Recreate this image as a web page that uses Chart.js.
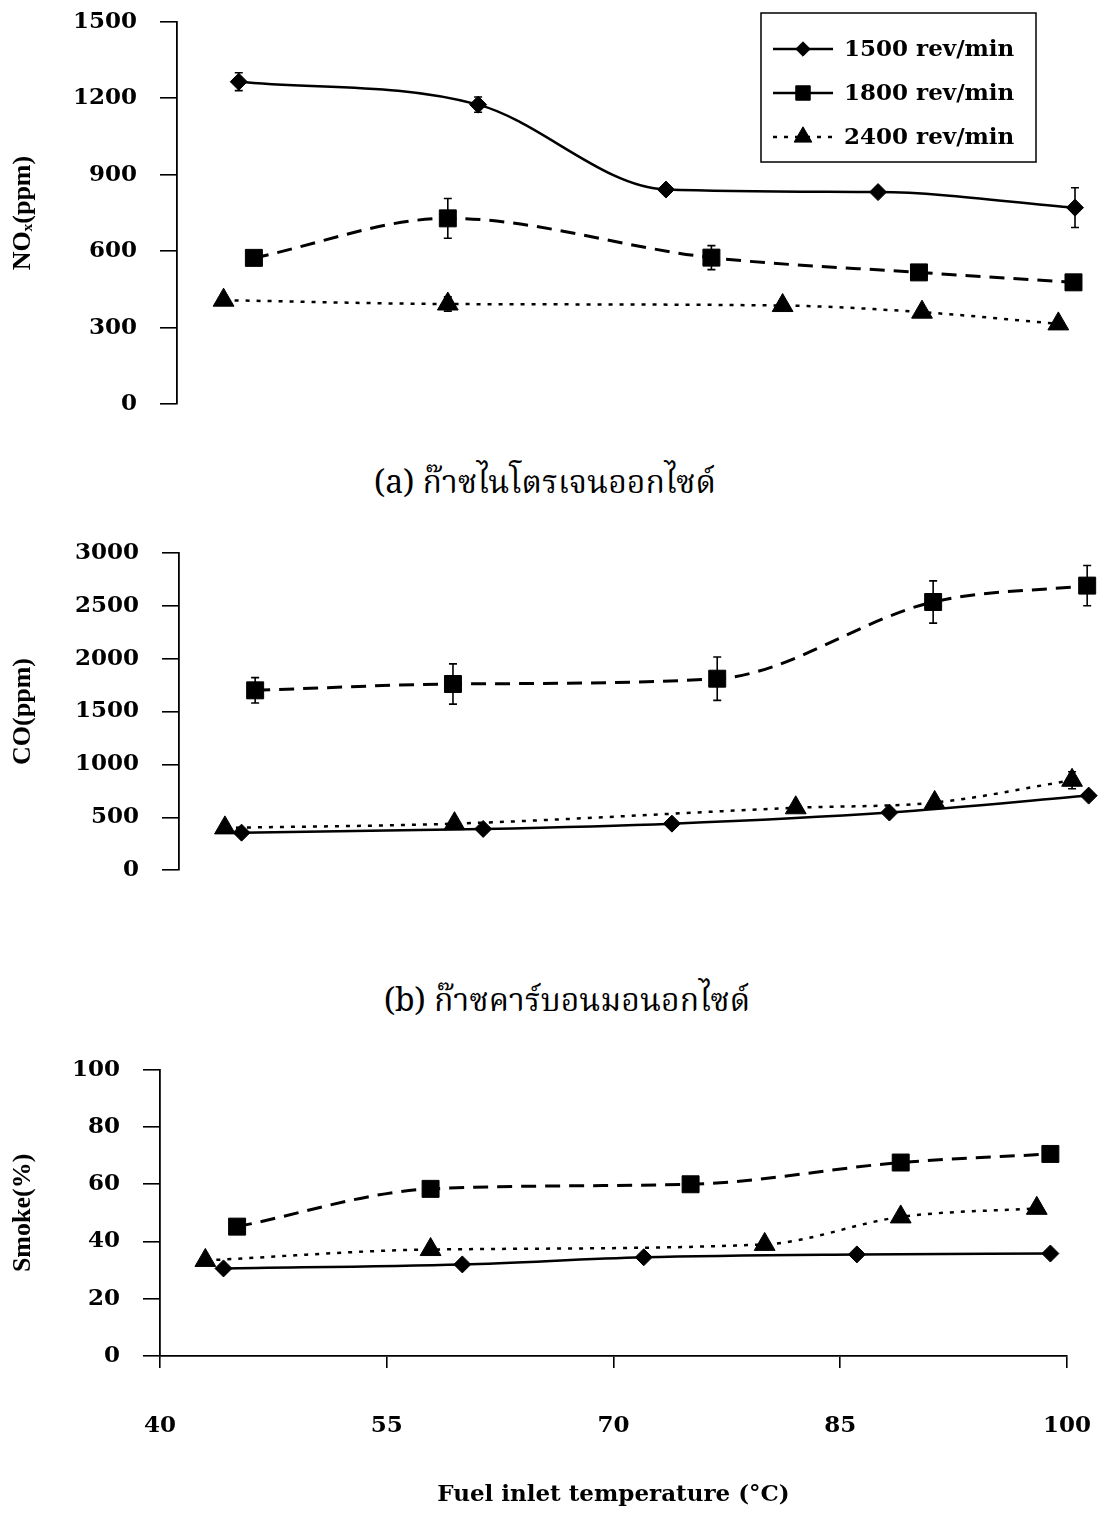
<!DOCTYPE html>
<html><head><meta charset="utf-8">
<script src="https://cdn.jsdelivr.net/npm/chart.js@4.4.1/dist/chart.umd.min.js"></script>
<style>
html,body{margin:0;padding:0;background:#fff}
body{width:1105px;height:1515px;position:relative;overflow:hidden}
.pane{position:absolute;left:0}
.cap{position:absolute;font-family:"Noto Serif Thai","Noto Sans Thai","Norasi","Loma","Garuda","Noto Sans",serif;font-size:32px;color:#000;white-space:nowrap;transform:translate(-50%,-50%)}
</style></head><body>
<div class="pane" style="top:-15px;height:456px;width:1110px"><canvas id="c1"></canvas></div>
<div class="cap" style="left:545px;top:484px">(a) ก๊าซไนโตรเจนออกไซด์</div>
<div class="pane" style="top:516px;height:391px;width:1110px"><canvas id="c2"></canvas></div>
<div class="cap" style="left:567px;top:1002px">(b) ก๊าซคาร์บอนมอนอกไซด์</div>
<div class="pane" style="top:1033px;height:482px;width:1135px"><canvas id="c3"></canvas></div>
<script>
// ---------- data ----------
const seriesLabels = ['1500 rev/min', '1800 rev/min', '2400 rev/min'];

// (a) NOx (ppm)
const noxTemp1500 = [45.2, 61.0, 73.4, 87.4, 100.4];
const nox1500     = [1265, 1175, 842, 832, 771];
const noxErr1500  = [35, 30, null, null, 78];
const noxTemp1800 = [46.2, 59.0, 76.4, 90.1, 100.3];
const nox1800     = [574, 729, 575, 517, 478];
const noxErr1800  = [null, 78, 47, null, null];
const noxTemp2400 = [44.2, 59.0, 81.1, 90.3, 99.3];
const nox2400     = [408, 393, 387, 361, 315];
const noxErr2400  = [null, 28, null, null, null];
const noxTicks    = [0, 300, 600, 900, 1200, 1500];

// (b) CO (ppm)
const coTemp1500 = [45.4, 61.4, 73.9, 88.3, 101.5];
const co1500     = [355, 390, 440, 545, 705];
const coTemp1800 = [46.3, 59.4, 76.9, 91.2, 101.4];
const co1800     = [1700, 1760, 1810, 2535, 2690];
const coErr1800  = [120, 190, 205, 200, 190];
const coTemp2400 = [44.3, 59.5, 82.1, 91.3, 100.4];
const co2400     = [400, 440, 590, 640, 850];
const coErr2400  = [null, null, null, null, 80];
const coTicks    = [0, 500, 1000, 1500, 2000, 2500, 3000];

// (c) Smoke (%)
const smokeTemp1500 = [44.2, 60.0, 72.0, 86.1, 98.9];
const smoke1500     = [30.6, 32.0, 34.5, 35.5, 35.8];
const smokeTemp1800 = [45.1, 57.9, 75.1, 89.0, 98.9];
const smoke1800     = [45.2, 58.4, 60.0, 67.6, 70.6];
const smokeTemp2400 = [43.0, 57.9, 80.0, 89.0, 98.0];
const smoke2400     = [33.4, 37.2, 39.0, 48.6, 51.6];
const smokeTicks    = [0, 20, 40, 60, 80, 100];
const tempTicks     = [40, 55, 70, 85, 100];

// ---------- helpers ----------
const pts = (xs, ys) => xs.map((x, i) => ({x: x, y: ys[i]}));
const BLACK = '#000';
const tickFont = {family: 'DejaVu Serif', weight: 'bold', size: 23};
const titleFont = {family: 'Liberation Serif', weight: 'bold', size: 26};

const styles = [
  {borderDash: [], pointStyle: 'rectRot', pointRadius: 8.5, borderWidth: 2.5},
  {borderDash: [15, 9], pointStyle: 'rect', pointRadius: 12, borderWidth: 3},
  {borderDash: [4, 7], pointStyle: 'triangle', pointRadius: 12, borderWidth: 2.5}
];

function makeDataset(i, xs, ys, errs) {
  const s = styles[i];
  return {
    label: seriesLabels[i],
    data: pts(xs, ys),
    errors: errs || null,
    borderColor: BLACK, backgroundColor: BLACK,
    pointBackgroundColor: BLACK, pointBorderColor: BLACK, pointBorderWidth: 1,
    borderWidth: s.borderWidth, borderDash: s.borderDash,
    pointStyle: s.pointStyle, pointRadius: s.pointRadius,
    cubicInterpolationMode: 'monotone', tension: 0.4, clip: false, fill: false
  };
}

const errorBarPlugin = {
  id: 'errorBars',
  afterDatasetsDraw(chart) {
    const ctx = chart.ctx, ys = chart.scales.y;
    ctx.save();
    ctx.strokeStyle = BLACK; ctx.lineWidth = 1.6; ctx.setLineDash([]);
    chart.data.datasets.forEach((ds, i) => {
      if (!ds.errors) return;
      const meta = chart.getDatasetMeta(i);
      ds.errors.forEach((e, j) => {
        if (e == null) return;
        const p = meta.data[j], v = ds.data[j].y;
        const yt = ys.getPixelForValue(v + e), yb = ys.getPixelForValue(v - e);
        const cw = 4;
        ctx.beginPath();
        ctx.moveTo(p.x, yt); ctx.lineTo(p.x, yb);
        ctx.moveTo(p.x - cw, yt); ctx.lineTo(p.x + cw, yt);
        ctx.moveTo(p.x - cw, yb); ctx.lineTo(p.x + cw, yb);
        ctx.stroke();
      });
    });
    ctx.restore();
  }
};

function drawMarker(ctx, style, r, x, y) {
  if (Chart.helpers && Chart.helpers.drawPoint) {
    Chart.helpers.drawPoint(ctx, {pointStyle: style, radius: r, borderWidth: 1, rotation: 0}, x, y);
    return;
  }
  ctx.beginPath();
  if (style === 'rect') { const s = r * Math.SQRT1_2; ctx.rect(x - s, y - s, 2 * s, 2 * s); }
  else if (style === 'rectRot') { ctx.moveTo(x, y - r); ctx.lineTo(x + r, y); ctx.lineTo(x, y + r); ctx.lineTo(x - r, y); ctx.closePath(); }
  else { ctx.moveTo(x, y - r); ctx.lineTo(x + r * 0.866, y + r / 2); ctx.lineTo(x - r * 0.866, y + r / 2); ctx.closePath(); }
  ctx.fill(); ctx.stroke();
}

const boxLegendPlugin = {
  id: 'boxLegend',
  afterDraw(chart, args, o) {
    if (!o || !o.display) return;
    const ctx = chart.ctx;
    const oy = o.y - chart.canvas.getBoundingClientRect().top;
    ctx.save();
    ctx.strokeStyle = BLACK; ctx.fillStyle = BLACK;
    ctx.lineWidth = 1.5; ctx.setLineDash([]);
    ctx.strokeRect(o.x, oy, o.w, o.h);
    ctx.font = 'bold ' + o.fontSize + 'px "DejaVu Serif"';
    ctx.textBaseline = 'middle'; ctx.textAlign = 'left';
    chart.data.datasets.forEach((ds, i) => {
      const cy = oy + o.firstRow + i * o.rowH;
      const x0 = o.x + o.lineX, x1 = x0 + o.lineLen;
      ctx.beginPath();
      ctx.setLineDash(o.dashes[i]);
      ctx.lineWidth = 2.5;
      ctx.moveTo(x0, cy); ctx.lineTo(x1, cy); ctx.stroke();
      ctx.setLineDash([]); ctx.lineWidth = 1;
      drawMarker(ctx, ds.pointStyle, ds.pointRadius * 0.85, (x0 + x1) / 2, cy);
      ctx.fillText(ds.label, x1 + o.textGap, cy + 1);
    });
    ctx.restore();
  }
};

function yAxis(min, max, ticksArr, title, width) {
  return {
    type: 'linear', position: 'left', min: min, max: max,
    afterBuildTicks: s => { s.ticks = ticksArr.map(v => ({value: v})); },
    afterFit: s => { s.width = width; },
    ticks: {color: BLACK, font: tickFont, padding: 23, callback: v => String(v)},
    grid: {drawOnChartArea: false, drawTicks: true, tickLength: 17, color: BLACK, lineWidth: 1.6},
    border: {display: true, color: BLACK, width: 1.8},
    title: {display: true, text: title, color: BLACK, font: titleFont, padding: {top: 8, bottom: 0}}
  };
}

// x pixel scale shared by all three panels: 40 -> 160px, 100 -> 1067px
const PX0 = 160, PX1 = 1067, T0 = 40, T1 = 100;
const toT = px => T0 + (px - PX0) * (T1 - T0) / (PX1 - PX0);

function baseOptions(pad, scales, plugins) {
  return {
    responsive: true, maintainAspectRatio: false, animation: false, events: [],
    layout: {padding: pad},
    plugins: Object.assign({legend: {display: false}, tooltip: {enabled: false}}, plugins || {}),
    scales: scales
  };
}

// ---------- (a) NOx ----------
new Chart(document.getElementById('c1'), {
  type: 'line',
  data: {datasets: [
    makeDataset(0, noxTemp1500, nox1500, noxErr1500),
    makeDataset(1, noxTemp1800, nox1800, noxErr1800),
    makeDataset(2, noxTemp2400, nox2400, noxErr2400)
  ]},
  options: baseOptions({left: 0, right: 10, top: 20, bottom: 16}, {
    x: {type: 'linear', display: false, min: toT(177), max: toT(1095)},
    y: yAxis(0, 1500, noxTicks, 'NOₓ(ppm)', 177)
  }, {boxLegend: {display: true, x: 761, y: 13, w: 275, h: 149, firstRow: 36, rowH: 44,
      lineX: 12, lineLen: 60, textGap: 11, fontSize: 23, dashes: [[], [], [4, 7]]}}),
  plugins: [errorBarPlugin, boxLegendPlugin]
});

// ---------- (b) CO ----------
new Chart(document.getElementById('c2'), {
  type: 'line',
  data: {datasets: [
    makeDataset(0, coTemp1500, co1500, null),
    makeDataset(1, coTemp1800, co1800, coErr1800),
    makeDataset(2, coTemp2400, co2400, coErr2400)
  ]},
  options: baseOptions({left: 0, right: 7, top: 21, bottom: 20}, {
    x: {type: 'linear', display: false, min: toT(179), max: toT(1098)},
    y: yAxis(0, 3000, coTicks, 'CO(ppm)', 179)
  }),
  plugins: [errorBarPlugin]
});

// ---------- (c) Smoke ----------
new Chart(document.getElementById('c3'), {
  type: 'line',
  data: {datasets: [
    makeDataset(0, smokeTemp1500, smoke1500, null),
    makeDataset(1, smokeTemp1800, smoke1800, null),
    makeDataset(2, smokeTemp2400, smoke2400, null)
  ]},
  options: baseOptions({left: 0, right: 8, top: 28, bottom: 0}, {
    x: {
      type: 'linear', position: 'bottom', min: T0, max: T1,
      afterBuildTicks: s => { s.ticks = tempTicks.map(v => ({value: v})); },
      afterFit: s => { s.height = 159; },
      ticks: {color: BLACK, font: tickFont, padding: 44, maxRotation: 0, callback: v => String(v)},
      grid: {drawOnChartArea: false, drawTicks: true, tickLength: 12, color: BLACK, lineWidth: 1.6},
      border: {display: true, color: BLACK, width: 1.8},
      title: {display: true, text: 'Fuel inlet temperature (°C)', color: BLACK,
              font: {family: 'DejaVu Serif', weight: 'bold', size: 23}, padding: {top: 0, bottom: 6}}
    },
    y: yAxis(0, 100, smokeTicks, 'Smoke(%)', 160)
  }),
  plugins: [errorBarPlugin]
});
</script>
</body></html>
